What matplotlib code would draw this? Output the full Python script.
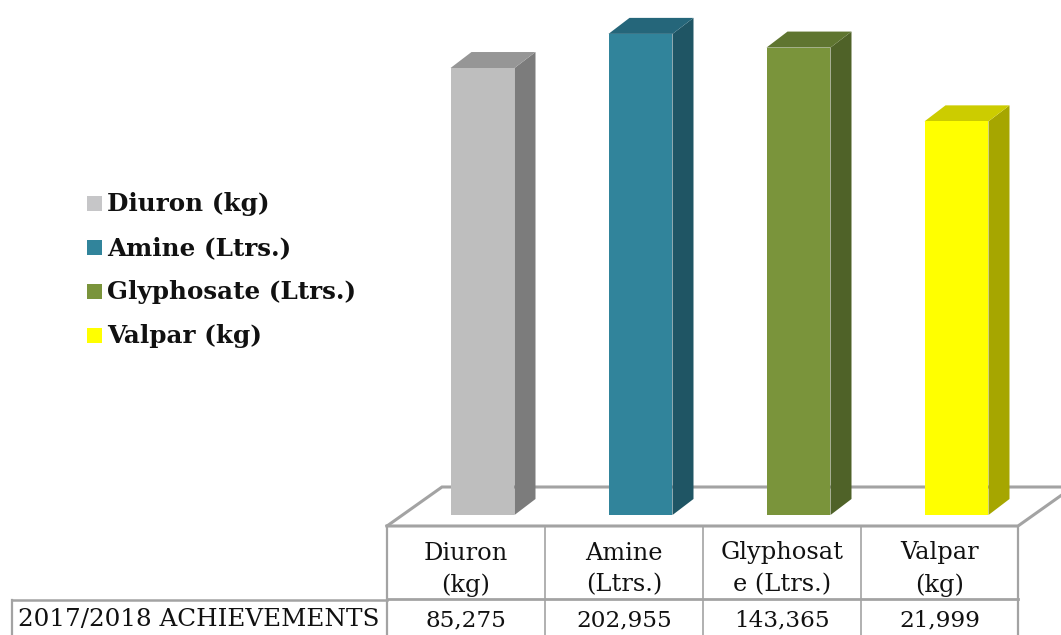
import matplotlib
matplotlib.use('Agg')
from matplotlib import pyplot as plt
from matplotlib.patches import Polygon, Rectangle
from matplotlib.transforms import IdentityTransform

categories = ['Diuron (kg)', 'Amine (Ltrs.)', 'Glyphosate (Ltrs.)', 'Valpar (kg)']
cell_labels = ['Diuron\n(kg)', 'Amine\n(Ltrs.)', 'Glyphosat\ne (Ltrs.)', 'Valpar\n(kg)']
values = [85275, 202955, 143365, 21999]
row_label = '2017/2018 ACHIEVEMENTS'
front_colors = ['#BEBEBE', '#31849B', '#7A943B', '#FFFF00']
side_colors = ['#7C7C7C', '#1F5564', '#4F6228', '#A6A600']
top_colors = ['#969696', '#25667A', '#5F7530', '#CCCC00']
legend_colors = ['#C6C6C8', '#31849B', '#7A943B', '#FFFF00']

W, H = 1061, 635
GRID = '#A3A3A3'
FONT = 'DejaVu Serif'
fig = plt.figure(figsize=(W / 100, H / 100), dpi=100, facecolor='white')

# pixel layer for floor, table and legend
bg = fig.add_axes([0, 0, 1, 1], zorder=0)
bg.set_xlim(0, W)
bg.set_ylim(H, 0)
bg.axis('off')

# floor outline
bg.plot([387, 442, 1075], [526, 487, 487], color=GRID, lw=2.2, solid_joinstyle='miter')
bg.plot([387, 1018, 1073], [526, 526, 487], color=GRID, lw=2.2, solid_joinstyle='miter')

# table
col_x = [387, 545, 703, 861, 1018]
bg.plot([387, 1018], [599, 599], color=GRID, lw=2.0)
bg.plot([12, 387], [600, 600], color=GRID, lw=1.8)
bg.plot([12, 12], [600, H], color=GRID, lw=1.6)
for i, x in enumerate(col_x):
    lw = 1.6 if i in (0, 4) else 1.2
    bg.plot([x, x], [526, H], color=GRID, lw=lw)
for i in range(4):
    cx = (col_x[i] + col_x[i + 1]) / 2
    lines = cell_labels[i].split('\n')
    bg.text(cx, 553, lines[0], ha='center', va='center', family=FONT, fontsize=17.4, color='#111111')
    bg.text(cx, 585, lines[1], ha='center', va='center', family=FONT, fontsize=17.4, color='#111111')
    bg.text(cx, 620, format(values[i], ','), ha='center', va='center', family=FONT, fontsize=16.7, color='#111111')
bg.text(18, 619, row_label, ha='left', va='center', family=FONT, fontsize=17.7, color='#111111')

# legend
legend_y = [204, 248, 292, 336]
for name, c, y in zip(categories, legend_colors, legend_y):
    bg.add_patch(Rectangle((87, y - 8), 15, 15, facecolor=c, edgecolor='none'))
    bg.text(107, y, name, ha='left', va='center', family=FONT, fontsize=17.7, fontweight='bold', color='#111111')

# bars on a log scale, 90.65 px per decade above the y=515 baseline
left, right = 403.5, 1035.5
ax = fig.add_axes([left / W, (H - 515) / H, (right - left) / W, 515 / H], zorder=1)
ax.patch.set_alpha(0)
ax.set_yscale('log')
ax.set_xlim(-0.5, 3.5)
ax.set_ylim(1, 10 ** (515 / 90.65))
ax.axis('off')

x_pos = list(range(len(values)))
bar_w = 0.405
ax.bar(x_pos, values, width=bar_w, color=front_colors, zorder=3)

dx, dy = 21, 16
for x, v, side, top in zip(x_pos, values, side_colors, top_colors):
    x0, y0 = ax.transData.transform((x - bar_w / 2, 1))
    x1, y1 = ax.transData.transform((x + bar_w / 2, v))
    ax.add_patch(Polygon([(x1, y0), (x1 + dx, y0 + dy), (x1 + dx, y1 + dy), (x1, y1)],
                         facecolor=side, edgecolor='none', transform=IdentityTransform(), clip_on=False, zorder=2))
    ax.add_patch(Polygon([(x0, y1), (x1, y1), (x1 + dx, y1 + dy), (x0 + dx, y1 + dy)],
                         facecolor=top, edgecolor='none', transform=IdentityTransform(), clip_on=False, zorder=2))

fig.savefig('out.png', dpi=100)
